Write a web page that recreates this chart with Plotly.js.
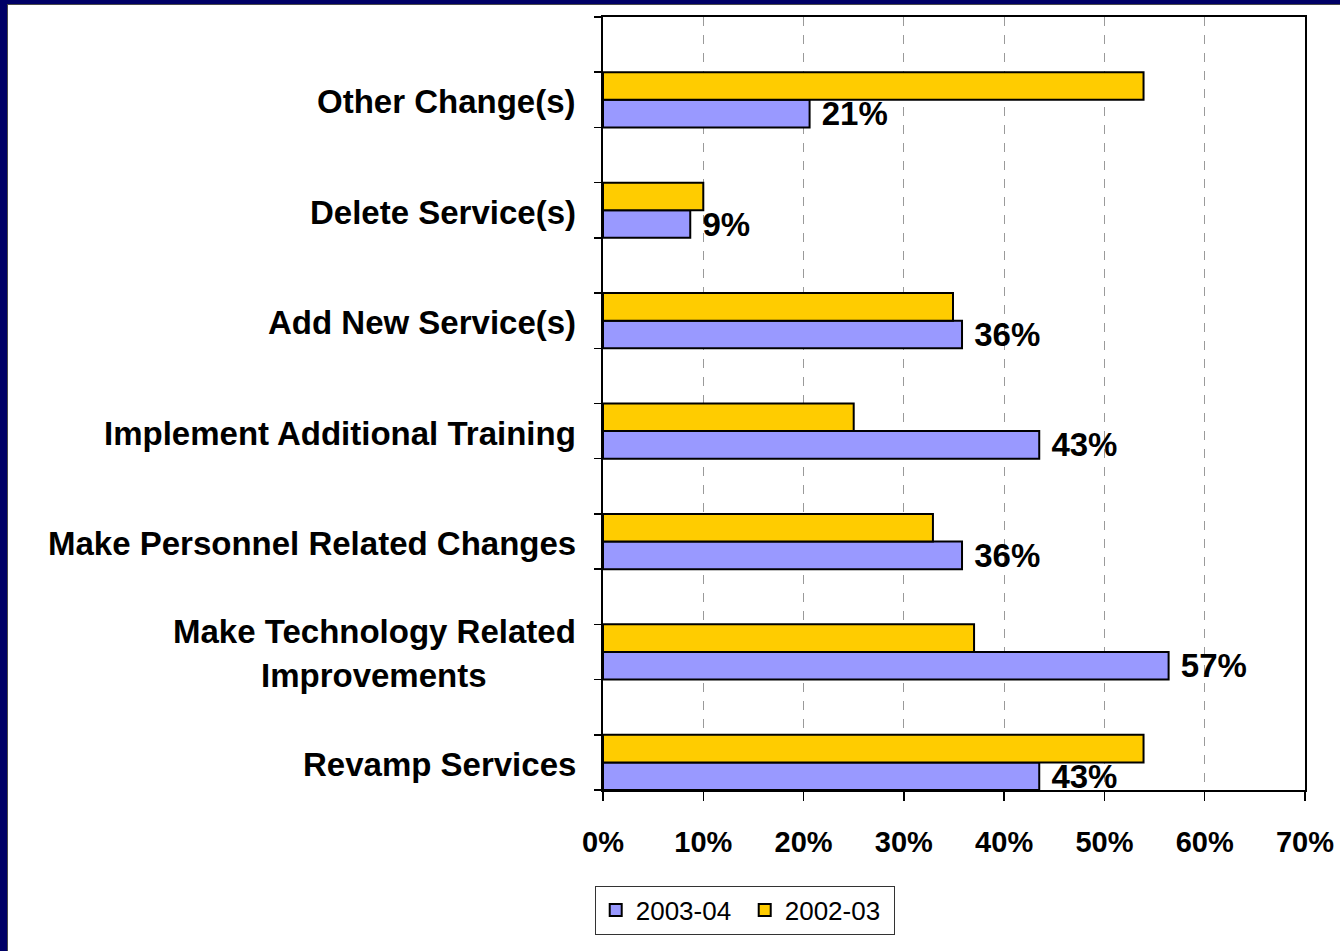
<!DOCTYPE html>
<html>
<head>
<meta charset="utf-8">
<script src="https://cdn.plot.ly/plotly-3.0.1.min.js"></script>
<style>
  html, body { margin: 0; padding: 0; background: #000066; width: 1340px; height: 951px; overflow: hidden; }
  #frame { position: absolute; left: 7px; top: 4px; border-left: 1px solid #4a4a4a; border-top: 1px solid #4a4a4a; background: #ffffff; }
  #chart { width: 1332px; height: 946px; }
</style>
</head>
<body>
<div id="frame"><div id="chart"></div></div>
<script>
// Categories listed top to bottom as they appear in the chart
const categories = [
  "Other Change(s)",
  "Delete Service(s)",
  "Add New Service(s)",
  "Implement Additional Training",
  "Make Personnel Related Changes",
  "Make Technology Related<br>Improvements",
  "Revamp Services"
];
const series2003_04 = [0.206, 0.087, 0.358, 0.435, 0.358, 0.564, 0.435];
const labels2003_04 = ["21%", "9%", "36%", "43%", "36%", "57%", "43%"];
const series2002_03 = [0.539, 0.100, 0.349, 0.250, 0.329, 0.370, 0.539];
const seriesNames = ["2003-04", "2002-03"];
const xTickVals = [0, 0.1, 0.2, 0.3, 0.4, 0.5, 0.6, 0.7];
const xTickText = ["0%", "10%", "20%", "30%", "40%", "50%", "60%", "70%"];

// Plot bottom-to-top so the first category sits at the top
const cats = categories.slice().reverse();
const blue = series2003_04.slice().reverse();
const blueText = labels2003_04.slice().reverse();
const yellow = series2002_03.slice().reverse();

const FONT = '"Liberation Sans", Arial, sans-serif';

const traces = [
  {
    type: 'bar', orientation: 'h', name: seriesNames[0],
    x: blue, y: cats,
    marker: { color: '#9999FF', line: { color: '#000000', width: 2 } },
    text: blueText, textposition: 'outside', constraintext: 'none', cliponaxis: false,
    texttemplate: '\u00a0%{text}',
    textfont: { family: FONT, size: 33, weight: 700, color: '#000000' },
    hoverinfo: 'skip'
  },
  {
    type: 'bar', orientation: 'h', name: seriesNames[1],
    x: yellow, y: cats,
    marker: { color: '#FFCC00', line: { color: '#000000', width: 2 } },
    hoverinfo: 'skip'
  },
  // invisible trace that carries the tick marks of the boundary axis
  {
    type: 'scatter', mode: 'markers', x: [null], y: [null], yaxis: 'y2',
    showlegend: false, hoverinfo: 'skip'
  }
];

// Category labels as annotations (centre-aligned multi-line, right-aligned block)
const ctx = document.createElement('canvas').getContext('2d');
ctx.font = 'bold 33px "Liberation Sans"';
const annotations = [];
cats.forEach((label) => {
  const lines = label.split('<br>');
  const widths = lines.map(l => ctx.measureText(l).width);
  const maxW = Math.max(...widths);
  lines.forEach((line, j) => {
    annotations.push({
      xref: 'paper', x: 0, yref: 'y', y: label,
      xanchor: 'right', yanchor: 'middle',
      xshift: -25 - (maxW - widths[j]) / 2,
      yshift: ((lines.length - 1) / 2 - j) * 44 - 2,
      text: line, showarrow: false,
      font: { family: FONT, size: 33, weight: 700, color: '#000000' }
    });
  });
});

const yRange = [-0.25, cats.length - 0.25];

const layout = {
  width: 1332, height: 946,
  paper_bgcolor: '#ffffff', plot_bgcolor: '#ffffff',
  margin: { l: 595, r: 35, t: 12, b: 161, pad: 0 },
  barmode: 'group', bargap: 0.5, bargroupgap: 0,
  showlegend: true,
  legend: {
    orientation: 'h', x: -0.0118, xanchor: 'left', y: -0.1238, yanchor: 'top',
    bgcolor: '#ffffff', bordercolor: '#333333', borderwidth: 1,
    font: { family: FONT, size: 26, color: '#000000' },
    traceorder: 'normal', entrywidth: 104, itemwidth: 30
  },
  xaxis: {
    range: [0, 0.7], tickvals: xTickVals, ticktext: xTickText,
    showgrid: true, gridcolor: '#9a9a9a', griddash: 'dash', gridwidth: 1,
    zeroline: false, showline: true, linecolor: '#000000', linewidth: 2, mirror: true,
    ticks: 'outside', ticklen: 9, tickwidth: 1.5, tickcolor: '#000000',
    tickfont: { family: FONT, size: 29, weight: 700, color: '#000000' },
    ticklabelstandoff: 16,
    fixedrange: true
  },
  yaxis: {
    type: 'category', categoryorder: 'array', categoryarray: cats,
    range: yRange, showticklabels: false, ticks: '',
    showgrid: false, zeroline: false,
    showline: true, linecolor: '#000000', linewidth: 2, mirror: true,
    fixedrange: true
  },
  yaxis2: {
    overlaying: 'y', side: 'left', range: yRange,
    tick0: -0.25, dtick: 0.5, showticklabels: false,
    ticks: 'outside', ticklen: 8, tickwidth: 1.5, tickcolor: '#000000',
    showgrid: false, zeroline: false, showline: false, fixedrange: true
  },
  annotations: annotations
};

Plotly.newPlot('chart', traces, layout, { staticPlot: true, displayModeBar: false });
</script>
</body>
</html>
